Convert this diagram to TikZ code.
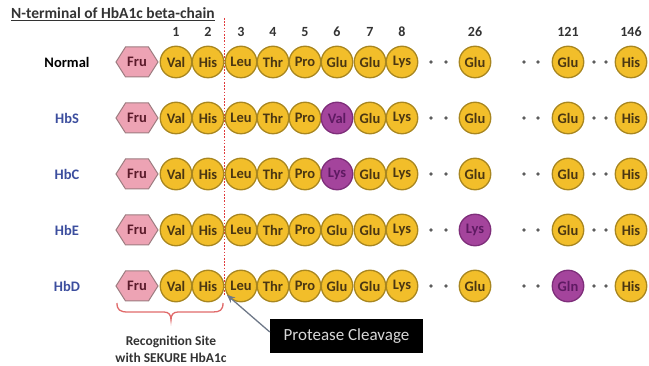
\documentclass[tikz,border=0pt]{standalone}
\usepackage{fontspec}
\setmainfont{Carlito}
\usetikzlibrary{arrows.meta}
\definecolor{goldfill}{HTML}{F2BE2A}
\definecolor{goldline}{HTML}{A88620}
\definecolor{goldtext}{HTML}{4A3612}
\definecolor{purfill}{HTML}{A4449C}
\definecolor{purline}{HTML}{7E2E7A}
\definecolor{purtext}{HTML}{5E1A62}
\definecolor{pinkfill}{HTML}{EDA3B4}
\definecolor{pinkline}{HTML}{9C7C80}
\definecolor{frutext}{HTML}{5A1A2A}
\definecolor{lblblue}{HTML}{3C4E9E}
\definecolor{cutred}{HTML}{E03A3A}
\definecolor{bracered}{HTML}{E06A6A}
\definecolor{arrowgray}{HTML}{6E7888}
\definecolor{titlegray}{HTML}{333333}
\definecolor{boxtext}{HTML}{D8D8D8}
\tikzset{
  aa/.style={circle, draw=goldline, line width=1.3pt, fill=goldfill, minimum size=31.5pt, inner sep=0pt,
             text=goldtext, font=\bfseries\fontsize{14.5}{15}\selectfont},
  mut/.style={aa, draw=purline, fill=purfill, text=purtext},
  rowlbl/.style={font=\bfseries\fontsize{14.5}{15}\selectfont, text=lblblue},
  posnum/.style={font=\bfseries\fontsize{14}{15}\selectfont, text=titlegray},
  dotmark/.style={circle, fill=titlegray!80, minimum size=3.8pt, inner sep=0pt},
  frutxt/.style={font=\bfseries\fontsize{14.5}{15}\selectfont, text=frutext, inner sep=0pt},
}
\begin{document}
\begin{tikzpicture}[x=1pt,y=-1pt]
\useasboundingbox (0,0) rectangle (649,366);
% title
\node[anchor=west, font=\bfseries\fontsize{15.5}{16}\selectfont, text=titlegray, inner sep=0pt] (title) at (11,14) {\underline{N-terminal of HbA1c beta-chain}};
% position numbers
\foreach \n/\x in {1/176,2/208,3/241,4/273,5/305,6/337,7/370,8/402,26/475,121/568,146/631}
  \node[posnum] (num\n) at (\x,32) {\n};
% cleavage line
\coordinate (cuttop) at (224.5,18);
\coordinate (cutbot) at (224.5,296);
\draw[cutred, line width=1.2pt, dash pattern=on 1.6pt off 1.6pt] (cuttop) -- (cutbot);
% rows
\foreach \r/\y/\lab/\lc in {n/62/Normal/black, s/118/HbS/lblblue, c/174/HbC/lblblue, e/230/HbE/lblblue, d/286/HbD/lblblue}{
  \node[rowlbl, text=\lc] (lab\r) at (67,\y) {\lab};
  \fill[pinkfill, draw=pinkline, line width=1pt, shift={(137,\y)}] (-21,0) -- (-11.5,-15) -- (11.5,-15) -- (21,0) -- (11.5,15) -- (-11.5,15) -- cycle;
  \node[frutxt] (fru\r) at (137,\y) {Fru};
}
% amino acids
\foreach \r/\y in {n/62, s/118, c/174, e/230, d/286}{
  \node[aa] (v\r) at (176,\y) {Val};
  \node[aa] (h\r) at (208,\y) {His};
  \node[aa] (l\r) at (241,\y) {Leu};
  \node[aa] (t\r) at (273,\y) {Thr};
  \node[aa] (p\r) at (305,\y) {Pro};
  \node[aa] (gb\r) at (370,\y) {Glu};
  \node[aa] (k\r) at (402,\y) {Lys};
  \node[dotmark] (da\r) at (431,\y) {};
  \node[dotmark] (db\r) at (446,\y) {};
  \node[dotmark] (dc\r) at (524,\y) {};
  \node[dotmark] (dd\r) at (538,\y) {};
  \node[dotmark] (de\r) at (594,\y) {};
  \node[dotmark] (df\r) at (606,\y) {};
  \node[aa] (hl\r) at (631,\y) {His};
}
\node[aa] (gan) at (337,62) {Glu};
\node[mut] (gas) at (337,118) {Val};
\node[mut] (gac) at (337,174) {Lys};
\node[aa] (gae) at (337,230) {Glu};
\node[aa] (gad) at (337,286) {Glu};
\node[aa] (xxvin) at (475,62) {Glu};
\node[aa] (xxvis) at (475,118) {Glu};
\node[aa] (xxvic) at (475,174) {Glu};
\node[mut] (xxvie) at (475,230) {Lys};
\node[aa] (xxvid) at (475,286) {Glu};
\node[aa] (cxxin) at (568,62) {Glu};
\node[aa] (cxxis) at (568,118) {Glu};
\node[aa] (cxxic) at (568,174) {Glu};
\node[aa] (cxxie) at (568,230) {Glu};
\node[mut] (cxxid) at (568,286) {Gln};
% brace
\coordinate (brl) at (117,303);
\coordinate (brr) at (223,303);
\draw[bracered, line width=1.3pt] (brl) .. controls (117,310) and (120,312) .. (128,312) -- (164,312) .. controls (169,312) and (171,315) .. (171,320)
  .. controls (171,315) and (173,312) .. (178,312) -- (213,312) .. controls (220,312) and (223,310) .. (brr);
\node[font=\bfseries\fontsize{13.5}{17}\selectfont, text=titlegray, align=center] (recog) at (171,349) {Recognition Site\\with SEKURE HbA1c};
% protease box
\node[fill=black, text=boxtext, font=\fontsize{17}{18}\selectfont, minimum width=153pt, minimum height=34pt, inner sep=0pt] (prot) at (346.5,336) {Protease Cleavage};
\coordinate (tip) at (227,295);
\draw[arrowgray, line width=1.3pt, -{Stealth[length=8pt,width=7pt]}] (prot.west) ++(0,-4) -- (tip);
\end{tikzpicture}
\end{document}
